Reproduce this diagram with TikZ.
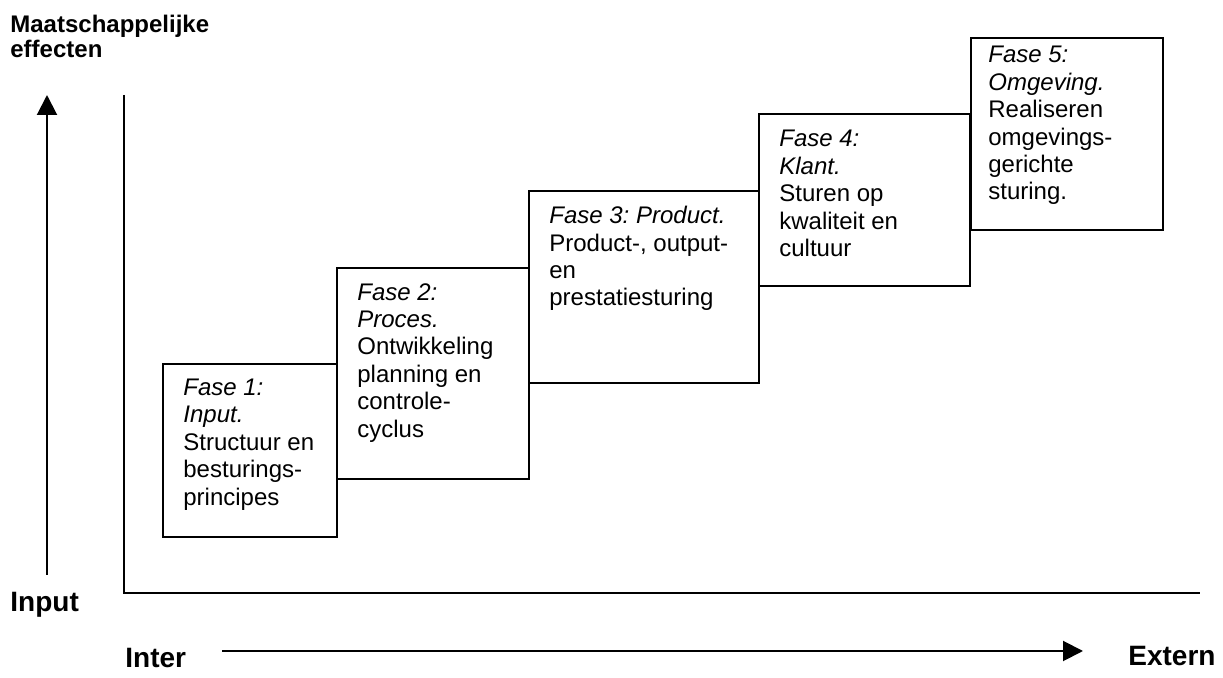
\documentclass[tikz,border=0pt]{standalone}
\usepackage{fontspec}
\setmainfont{Liberation Sans}
\frenchspacing
\usetikzlibrary{arrows.meta}

\begin{document}
\begin{tikzpicture}[x=0.5pt, y=-0.5pt,
    fase/.style={draw, line width=1pt, inner sep=0pt, anchor=north west},
    fasetext/.style={anchor=north west, align=left, inner sep=0pt, font=\fontsize{12}{13.7}\selectfont},
    axisline/.style={line width=1pt},
    bigarrow/.style={line width=1pt, -{Triangle[length=10pt,width=10pt]}},
    axislabel/.style={anchor=base west, inner sep=0pt, font=\fontsize{14}{16}\selectfont\bfseries}]
    \useasboundingbox (0,0) rectangle (1223,678);

    \node[fase, minimum width=87pt,   minimum height=86.5pt]  (f1) at (162,363) {};
    \node[fase, minimum width=96pt,   minimum height=105.5pt] (f2) at (336,267) {};
    \node[fase, minimum width=115pt,  minimum height=96pt]    (f3) at (528,190) {};
    \node[fase, minimum width=105.5pt,minimum height=86pt]    (f4) at (758,113) {};
    \node[fase, minimum width=96pt,   minimum height=96pt]    (f5) at (970,37)  {};

    \node[fasetext] (t1) at ([shift={(21,15.5)}]f1.north west)
        {\textit{Fase 1:}\\\textit{Input.}\\Structuur en\\besturings-\\principes};
    \node[fasetext] (t2) at ([shift={(21,16)}]f2.north west)
        {\textit{Fase 2:}\\\textit{Proces.}\\Ontwikkeling\\planning en\\controle-\\cyclus};
    \node[fasetext] (t3) at ([shift={(21,16)}]f3.north west)
        {\textit{Fase 3: Product.}\\Product-, output-\\en\\prestatiesturing};
    \node[fasetext] (t4) at ([shift={(21,17)}]f4.north west)
        {\textit{Fase 4:}\\\textit{Klant.}\\Sturen op\\kwaliteit en\\cultuur};
    \node[fasetext] (t5) at ([shift={(18,9)}]f5.north west)
        {\textit{Fase 5:}\\\textit{Omgeving.}\\Realiseren\\omgevings-\\gerichte\\sturing.};

    % assen
    \coordinate (ytop) at (124,95);
    \coordinate (xend) at (1200,593);
    \draw[axisline] (ytop) |- (xend);

    \coordinate (upstart) at (47,575);
    \coordinate (upend)   at (47,95);
    \draw[bigarrow] (upstart) -- (upend);
    \coordinate (rstart) at (222,651);
    \coordinate (rend)   at (1083,651);
    \draw[bigarrow] (rstart) -- (rend);

    \node[anchor=north west, align=left, inner sep=0pt, font=\fontsize{12}{12.5}\selectfont\bfseries]
        (effect) at (10,15) {Maatschappelijke\\effecten};
    \node[axislabel] (input)  at (10,612)   {Input};
    \node[axislabel] (inter)  at (125,668)  {Inter};
    \node[axislabel] (extern) at (1128,666) {Extern};
\end{tikzpicture}
\end{document}
